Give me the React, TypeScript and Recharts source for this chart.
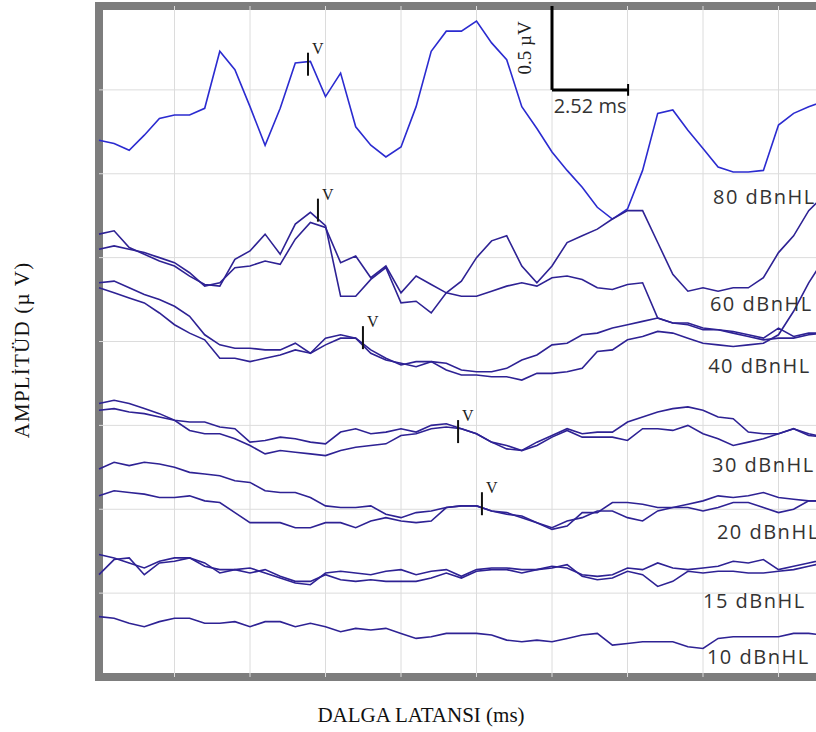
import {
  ComposedChart,
  Line,
  ReferenceArea,
  ReferenceDot,
  ReferenceLine,
  XAxis,
  YAxis,
} from 'recharts';

// time base shared by every averaged trace (ms)
const latencyMs = [
  0, 0.5, 1, 1.5, 2, 2.5, 3, 3.5, 4, 4.5, 5, 5.5, 6, 6.5, 7, 7.5, 8, 8.5, 9,
  9.5, 10, 10.5, 11, 11.5, 12, 12.5, 13, 13.5, 14, 14.5, 15, 15.5, 16, 16.5,
  17, 17.5, 18, 18.5, 19, 19.5, 20, 20.5, 21, 21.5, 22, 22.5, 23, 23.5, 24,
];

// amplitudes in µV (traces stacked on the page, 0.5 µV per grid row)
const trace80 = [
  3.2, 3.18, 3.14, 3.23, 3.33, 3.35, 3.35, 3.39, 3.73, 3.62,
  3.4, 3.17, 3.39, 3.66, 3.67, 3.46, 3.6, 3.28, 3.17, 3.1,
  3.16, 3.4, 3.73, 3.85, 3.85, 3.91, 3.78, 3.68, 3.4, 3.27,
  3.13, 3.02, 2.92, 2.8, 2.73, 2.79, 3.02, 3.36, 3.38, 3.26,
  3.15, 3.04, 3.01, 3.01, 3.02, 3.29, 3.36, 3.4, 3.43,
];
const trace60a = [
  2.64, 2.66, 2.56, 2.52, 2.48, 2.45, 2.39, 2.34, 2.33, 2.49,
  2.54, 2.64, 2.52, 2.7, 2.77, 2.69, 2.27, 2.27, 2.37, 2.44,
  2.23, 2.24, 2.17, 2.29, 2.36, 2.5, 2.6, 2.63, 2.45, 2.35,
  2.45, 2.59, 2.63, 2.67, 2.73, 2.78, 2.78, 2.59, 2.4, 2.3,
  2.32, 2.3, 2.32, 2.32, 2.38, 2.53, 2.63, 2.78, 2.87,
];
const trace60b = [
  2.55, 2.57, 2.55, 2.53, 2.5, 2.47, 2.41, 2.33, 2.35, 2.44,
  2.45, 2.48, 2.46, 2.61, 2.71, 2.68, 2.47, 2.51, 2.38, 2.45,
  2.29, 2.39, 2.34, 2.29, 2.27, 2.27, 2.3, 2.33, 2.35, 2.33,
  2.38, 2.39, 2.37, 2.32, 2.31, 2.34, 2.35, 2.14, 2.11, 2.11,
  2.08, 2.07, 2.06, 2.04, 2.02, 2.08, 2.03, 2.05, 2.05,
];
const trace40a = [
  2.35, 2.36, 2.32, 2.28, 2.25, 2.21, 2.15, 2.04, 1.98, 1.96,
  1.96, 1.95, 1.95, 1.99, 1.93, 1.98, 2.02, 2.02, 1.95, 1.9,
  1.86, 1.88, 1.88, 1.87, 1.83, 1.82, 1.82, 1.84, 1.89, 1.92,
  1.98, 1.99, 2.04, 2.05, 2.08, 2.1, 2.12, 2.14, 2.11, 2.1,
  2.07, 2.07, 2.05, 2.03, 2.01, 2.02, 2.02, 2.04, 2.05,
];
const trace40b = [
  2.32, 2.29, 2.26, 2.23, 2.17, 2.1, 2.05, 2.01, 1.9, 1.9,
  1.88, 1.9, 1.92, 1.95, 1.93, 2.02, 2.04, 2.02, 1.93, 1.89,
  1.87, 1.85, 1.88, 1.83, 1.8, 1.8, 1.79, 1.79, 1.77, 1.81,
  1.81, 1.82, 1.84, 1.94, 1.95, 2.01, 2.03, 2.06, 2.05, 2.02,
  1.99, 1.98, 1.97, 1.98, 1.99, 2.04, 2.18, 2.35, 2.49,
];
const trace30a = [
  1.63, 1.65, 1.63, 1.6, 1.57, 1.53, 1.52, 1.52, 1.49, 1.48,
  1.4, 1.41, 1.43, 1.42, 1.4, 1.39, 1.46, 1.48, 1.45, 1.46,
  1.48, 1.46, 1.5, 1.51, 1.48, 1.45, 1.4, 1.36, 1.35, 1.4,
  1.44, 1.48, 1.45, 1.46, 1.46, 1.52, 1.55, 1.58, 1.6, 1.61,
  1.59, 1.55, 1.54, 1.46, 1.45, 1.45, 1.48, 1.44, 1.43,
];
const trace30b = [
  1.59, 1.6, 1.58, 1.57, 1.55, 1.53, 1.47, 1.45, 1.45, 1.42,
  1.38, 1.33, 1.35, 1.34, 1.33, 1.32, 1.35, 1.37, 1.38, 1.39,
  1.44, 1.45, 1.48, 1.49, 1.48, 1.45, 1.4, 1.38, 1.35, 1.38,
  1.43, 1.47, 1.43, 1.43, 1.43, 1.41, 1.48, 1.48, 1.47, 1.5,
  1.45, 1.42, 1.38, 1.4, 1.42, 1.45, 1.48, 1.45, 1.43,
];
const trace20a = [
  1.24, 1.28, 1.26, 1.28, 1.27, 1.25, 1.22, 1.21, 1.2, 1.17,
  1.16, 1.11, 1.1, 1.1, 1.07, 1.02, 1.01, 1.01, 1.02, 0.97,
  0.95, 0.98, 0.99, 1.01, 1.02, 1.02, 0.99, 0.98, 0.95, 0.92,
  0.88, 0.9, 0.98, 0.98, 1.04, 1.04, 1.03, 1.01, 1.01, 1.03,
  1.05, 1.08, 1.07, 1.08, 1.1, 1.07, 1.06, 1.05, 1.05,
];
const trace20b = [
  1.08, 1.11, 1.1, 1.09, 1.07, 1.07, 1.08, 1.05, 1.04, 0.98,
  0.92, 0.92, 0.92, 0.89, 0.89, 0.92, 0.92, 0.89, 0.93, 0.95,
  0.93, 0.92, 0.93, 1.01, 1.02, 1.02, 0.99, 0.97, 0.96, 0.92,
  0.89, 0.93, 0.95, 0.99, 0.99, 0.95, 0.93, 0.99, 1.01, 1.01,
  0.99, 1.01, 1.04, 1.04, 1.01, 0.98, 1.0, 1.05, 1.05,
];
const trace15a = [
  0.73, 0.71, 0.68, 0.65, 0.69, 0.71, 0.71, 0.66, 0.64, 0.64,
  0.65, 0.62, 0.59, 0.56, 0.55, 0.62, 0.63, 0.62, 0.61, 0.63,
  0.64, 0.61, 0.63, 0.64, 0.6, 0.64, 0.65, 0.65, 0.64, 0.64,
  0.66, 0.65, 0.61, 0.6, 0.61, 0.65, 0.64, 0.68, 0.65, 0.64,
  0.65, 0.66, 0.69, 0.68, 0.7, 0.64, 0.66, 0.68, 0.7,
];
const trace15b = [
  0.61, 0.7, 0.71, 0.61, 0.68, 0.69, 0.71, 0.68, 0.62, 0.64,
  0.62, 0.64, 0.6, 0.57, 0.57, 0.61, 0.58, 0.57, 0.58, 0.57,
  0.57, 0.57, 0.59, 0.62, 0.59, 0.63, 0.64, 0.64, 0.62, 0.64,
  0.65, 0.67, 0.6, 0.58, 0.59, 0.63, 0.61, 0.54, 0.57, 0.63,
  0.62, 0.63, 0.63, 0.62, 0.62, 0.63, 0.64, 0.66, 0.68,
];
const trace10 = [
  0.36, 0.35, 0.32, 0.3, 0.33, 0.35, 0.35, 0.32, 0.32, 0.33,
  0.3, 0.33, 0.33, 0.3, 0.32, 0.3, 0.27, 0.29, 0.28, 0.29,
  0.26, 0.23, 0.24, 0.26, 0.26, 0.26, 0.25, 0.22, 0.21, 0.22,
  0.21, 0.23, 0.25, 0.26, 0.19, 0.2, 0.21, 0.21, 0.21, 0.18,
  0.17, 0.23, 0.24, 0.24, 0.24, 0.24, 0.26, 0.26, 0.25,
];

// wave V marks
const waveVLatency = [6.92, 7.25, 8.74, 11.89, 12.68];
const waveVAmp = [3.65, 2.78, 2.02, 1.46, 1.03];

// stimulus level labels, anchored at their left baseline
const levels = ['80 dBnHL', '60 dBnHL', '40 dBnHL', '30 dBnHL', '20 dBnHL', '15 dBnHL', '10 dBnHL'];
const levelLabelMs = [20.33, 20.23, 20.17, 20.3, 20.46, 20.0, 20.13];
const levelLabelAmp = [2.82, 2.18, 1.81, 1.22, 0.82, 0.41, 0.08];

// calibration bar
const scaleBarUv = 0.5;
const scaleBarMs = 2.52;
const scaleBarOrigin = { ms: 15, uv: 3.5 };

const xTicks = [0, 2.5, 5, 7.5, 10, 12.5, 15, 17.5, 20, 22.5, 25];
const yTicks = [0, 0.5, 1, 1.5, 2, 2.5, 3, 3.5, 4];

const TOP_BLUE = '#2b2bd0';
const TRACE = '#2e2294';

const traces = [
  { id: 't80', values: trace80, color: TOP_BLUE },
  { id: 't60a', values: trace60a, color: TRACE },
  { id: 't60b', values: trace60b, color: TRACE },
  { id: 't40a', values: trace40a, color: TRACE },
  { id: 't40b', values: trace40b, color: TRACE },
  { id: 't30a', values: trace30a, color: TRACE },
  { id: 't30b', values: trace30b, color: TRACE },
  { id: 't20a', values: trace20a, color: TRACE },
  { id: 't20b', values: trace20b, color: TRACE },
  { id: 't15a', values: trace15a, color: TRACE },
  { id: 't15b', values: trace15b, color: TRACE },
  { id: 't10', values: trace10, color: TRACE },
];

const toPoints = (values: number[]) =>
  latencyMs.map((t, i) => ({ t, v: values[i] }));

const CHART_W = 870;
const CHART_H = 732;
const blank = () => '';

function VMark(props: any) {
  const { cx, cy } = props;
  if (cx == null || cy == null) return null;
  return (
    <g>
      <line x1={cx} y1={cy - 12} x2={cx} y2={cy + 11} stroke="#111" strokeWidth={2} />
      <text
        x={cx + 4}
        y={cy - 11}
        fontFamily="'Liberation Serif', serif"
        fontSize={16}
        fill="#222"
      >
        V
      </text>
    </g>
  );
}

function LevelLabel(props: any) {
  const { cx, cy, text } = props;
  if (cx == null || cy == null) return null;
  return (
    <text
      x={cx}
      y={cy}
      fontFamily="'Open Sans', sans-serif"
      fontSize={20}
      letterSpacing={1.5}
      fill="#333"
    >
      {text}
    </text>
  );
}

export default function App() {
  return (
    <div
      style={{
        position: 'absolute',
        left: 0,
        top: 0,
        width: 816,
        height: 732,
        overflow: 'hidden',
        background: '#fff',
      }}
    >
      <ComposedChart
        width={CHART_W}
        height={CHART_H}
        margin={{ top: 6, right: CHART_W - 854, bottom: CHART_H - 677, left: 99 }}
      >
        <XAxis
          dataKey="t"
          type="number"
          domain={[0, 25]}
          ticks={xTicks}
          height={0}
          mirror
          axisLine={false}
          tickFormatter={blank}
          tickSize={9}
          tickLine={{ stroke: '#333', strokeWidth: 1.5 }}
        />
        <XAxis
          xAxisId="top"
          orientation="top"
          type="number"
          domain={[0, 25]}
          ticks={xTicks}
          height={0}
          mirror
          axisLine={false}
          tickFormatter={blank}
          tickSize={9}
          tickLine={{ stroke: '#333', strokeWidth: 1.5 }}
        />
        <YAxis
          type="number"
          domain={[0, 4]}
          ticks={yTicks}
          width={0}
          mirror
          axisLine={false}
          tickFormatter={blank}
          tickSize={9}
          tickLine={{ stroke: '#333', strokeWidth: 1.5 }}
        />
        {xTicks.slice(1, -1).map((t) => (
          <ReferenceLine key={`gx${t}`} x={t} stroke="#dcdcdc" strokeWidth={1} />
        ))}
        {yTicks.slice(1, -1).map((a) => (
          <ReferenceLine key={`gy${a}`} y={a} stroke="#dcdcdc" strokeWidth={1} />
        ))}
        {traces.map((tr) => (
          <Line
            key={tr.id}
            data={toPoints(tr.values)}
            dataKey="v"
            type="linear"
            stroke={tr.color}
            strokeWidth={1.6}
            dot={false}
            activeDot={false}
            isAnimationActive={false}
          />
        ))}
        {waveVLatency.map((t, i) => (
          <ReferenceDot
            key={`v${i}`}
            x={t}
            y={waveVAmp[i]}
            shape={(p: any) => <VMark {...p} />}
          />
        ))}
        {levels.map((lbl, i) => (
          <ReferenceDot
            key={lbl}
            x={levelLabelMs[i]}
            y={levelLabelAmp[i]}
            shape={(p: any) => <LevelLabel {...p} text={lbl} />}
          />
        ))}
        <ReferenceLine
          segment={[
            { x: scaleBarOrigin.ms, y: scaleBarOrigin.uv },
            { x: scaleBarOrigin.ms, y: scaleBarOrigin.uv + scaleBarUv },
          ]}
          stroke="#000"
          strokeWidth={3}
          ifOverflow="visible"
        />
        <ReferenceLine
          segment={[
            { x: scaleBarOrigin.ms, y: scaleBarOrigin.uv },
            { x: scaleBarOrigin.ms + scaleBarMs, y: scaleBarOrigin.uv },
          ]}
          stroke="#000"
          strokeWidth={3}
          ifOverflow="visible"
        />
        <ReferenceLine
          segment={[
            { x: scaleBarOrigin.ms + scaleBarMs, y: scaleBarOrigin.uv - 0.035 },
            { x: scaleBarOrigin.ms + scaleBarMs, y: scaleBarOrigin.uv + 0.035 },
          ]}
          stroke="#000"
          strokeWidth={2}
          ifOverflow="visible"
        />
        <ReferenceDot
          x={scaleBarOrigin.ms - 0.9}
          y={scaleBarOrigin.uv + scaleBarUv / 2}
          shape={(p: any) => (
            <text
              x={p.cx}
              y={p.cy}
              transform={`rotate(-90 ${p.cx} ${p.cy})`}
              textAnchor="middle"
              dominantBaseline="central"
              fontFamily="'Liberation Serif', serif"
              fontSize={19}
              fill="#222"
              stroke="#fff"
              strokeWidth={4}
              paintOrder="stroke"
            >
              {`${scaleBarUv} µV`}
            </text>
          )}
        />
        <ReferenceDot
          x={scaleBarOrigin.ms + scaleBarMs / 2}
          y={scaleBarOrigin.uv - 0.14}
          shape={(p: any) => (
            <text
              x={p.cx}
              y={p.cy}
              textAnchor="middle"
              fontFamily="'Open Sans', sans-serif"
              fontSize={20}
              fill="#333"
            >
              {`${scaleBarMs} ms`}
            </text>
          )}
        />
        <ReferenceArea
          x1={0}
          x2={25}
          y1={0}
          y2={4}
          fill="none"
          fillOpacity={0}
          stroke="#7d7d7d"
          strokeWidth={8}
          ifOverflow="visible"
        />
      </ComposedChart>
      <div
        style={{
          position: 'absolute',
          left: 22,
          top: 350,
          transform: 'translate(-50%, -50%) rotate(-90deg)',
          whiteSpace: 'nowrap',
          fontFamily: "'Liberation Serif', serif",
          fontSize: 21,
          letterSpacing: 1.2,
          color: '#111',
        }}
      >
        AMPLİTÜD (µ V)
      </div>
      <div
        style={{
          position: 'absolute',
          left: 421,
          top: 705,
          transform: 'translateX(-50%)',
          whiteSpace: 'nowrap',
          fontFamily: "'Liberation Serif', serif",
          fontSize: 21,
          lineHeight: '21px',
          color: '#111',
        }}
      >
        DALGA LATANSI (ms)
      </div>
    </div>
  );
}
